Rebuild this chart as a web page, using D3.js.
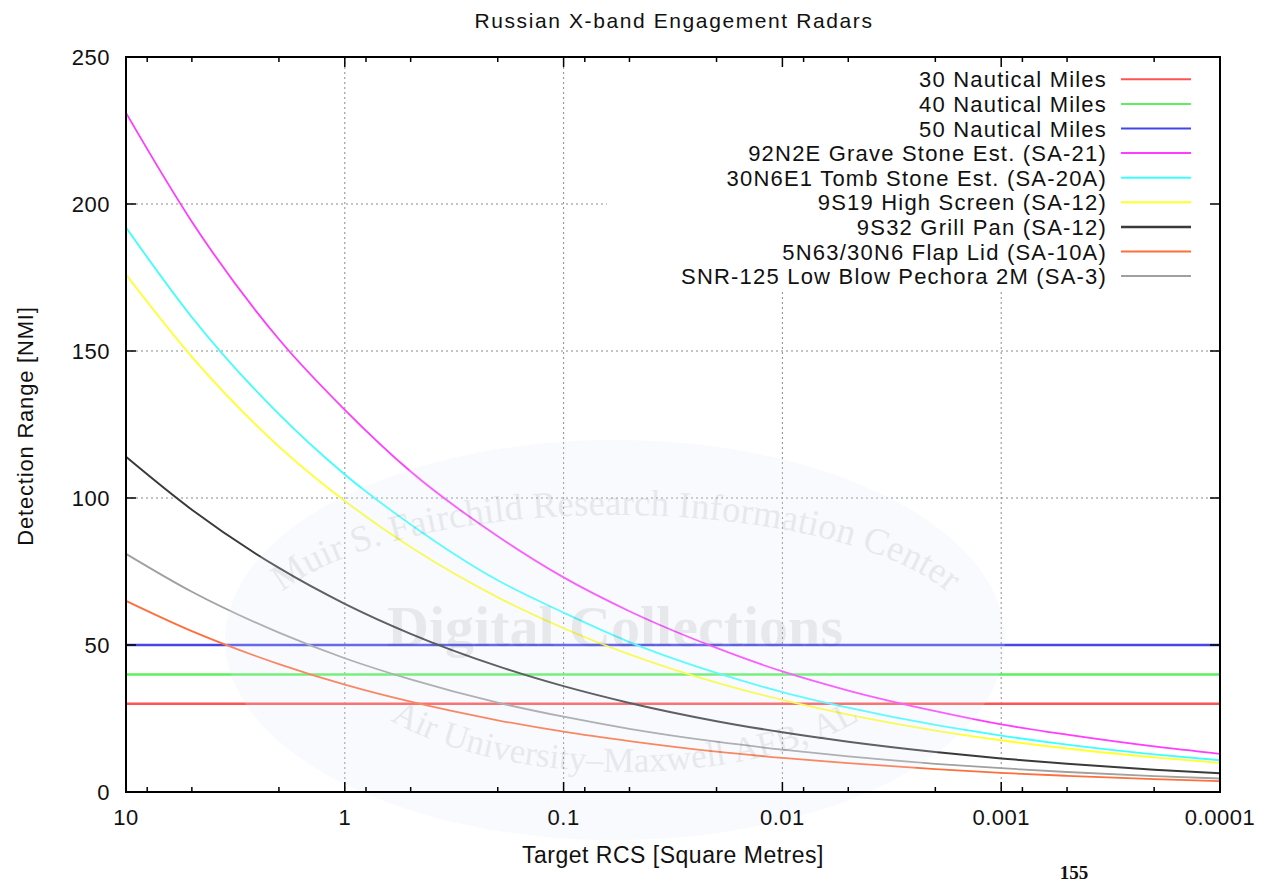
<!DOCTYPE html>
<html><head><meta charset="utf-8">
<script src="https://cdn.jsdelivr.net/npm/d3@7"></script>
<style>
body{margin:0;background:#fff}
svg text{font-family:"Liberation Sans",Arial,Helvetica,sans-serif;fill:#111}
svg text.wm{font-family:"Liberation Serif","Times New Roman",serif;fill:#000}
</style>
</head><body>
<svg id="c" width="1268" height="882"></svg>
<script>
// ---------- data ----------
const rcs = [10,5,2,1,0.5,0.2,0.1,0.05,0.02,0.01,0.005,0.002,0.001,0.0005,0.0002,0.0001];
const graveStone = [231,194,154,130,109,87,73,61.5,49,41,34.5,27.5,23,19.5,15.5,13];
const tombStone  = [192,161.5,128.5,108,91,72,61,51,40.5,34,28.7,22.8,19.2,16.1,12.8,10.8];
const highScreen = [176,148,117.5,99,83.3,66.2,55.7,46.8,37.2,31.3,26.3,20.9,17.6,14.8,11.8,9.9];
const grillPan   = [114,96,76.2,64,53.8,42.8,36,30.3,24.1,20.3,17.1,13.6,11.4,9.6,7.6,6.4];
const flapLid    = [65,54.7,43.5,36.5,30.7,24.4,20.5,17.3,13.7,11.6,9.8,7.8,6.5,5.5,4.4,3.7];
const lowBlow    = [81,68.1,54.2,45.5,38.3,30.4,25.6,21.5,17.1,14.4,12.1,9.6,8.1,6.8,5.4,4.6];
const levelValues = [30,40,50];
const levelNames = ["30 Nautical Miles","40 Nautical Miles","50 Nautical Miles"];
const curveNames = ["92N2E Grave Stone Est. (SA-21)","30N6E1 Tomb Stone Est. (SA-20A)","9S19 High Screen (SA-12)","9S32 Grill Pan (SA-12)","5N63/30N6 Flap Lid (SA-10A)","SNR-125 Low Blow Pechora 2M (SA-3)"];
const curveValues = [graveStone,tombStone,highScreen,grillPan,flapLid,lowBlow];
const xTickValues = [10,1,0.1,0.01,0.001,0.0001];
const xTickLabels = ["10","1","0.1","0.01","0.001","0.0001"];
const xMinorFactors = [0.8,0.5,0.2];
const yTickValues = [0,50,100,150,200,250];
const title = "Russian X-band Engagement  Radars";
const xLabel = "Target RCS [Square Metres]";
const yLabel = "Detection Range [NMI]";
const wmTop = "Muir S. Fairchild Research Information Center";
const wmMid = "Digital Collections";
const wmBot = "Air University\u2013Maxwell AFB, AL";

// ---------- styles ----------
const levelColors = ["#ff5252","#5cf05c","#4646e6"];
const curveColors = ["#ff3cff","#3cffff","#ffff2a","#3a3a3a","#ff6e3c","#a0a0a0"];

const L=126,R=1220,T=57,B=792;
const svg = d3.select("#c");
const x = d3.scaleLog().domain([10,0.0001]).range([L,R]);
const y = d3.scaleLinear().domain([0,250]).range([B,T]);

// grid
const grid = svg.append("g").attr("stroke","#8a8a8a").attr("stroke-width",1).attr("stroke-dasharray","2,3");
grid.selectAll("line.v").data(xTickValues.slice(1,-1)).join("line")
  .attr("x1",d=>x(d)).attr("x2",d=>x(d)).attr("y1",T).attr("y2",B);
grid.selectAll("line.h").data(yTickValues.slice(1,-1)).join("line")
  .attr("x1",L).attr("x2",R).attr("y1",d=>y(d)).attr("y2",d=>y(d));

// key area masks grid
svg.append("rect").attr("x",607).attr("y",T+1).attr("width",R-607-1).attr("height",232).attr("fill","#fff");

// level lines
svg.append("g").selectAll("line").data(levelValues).join("line")
  .attr("x1",L).attr("x2",R).attr("y1",d=>y(d)).attr("y2",d=>y(d))
  .attr("stroke",(d,i)=>levelColors[i]).attr("stroke-width",2.5);

// curves
const line = d3.line().x(d=>x(d[0])).y(d=>y(d[1])).curve(d3.curveMonotoneX);
svg.append("g").selectAll("path").data(curveValues).join("path")
  .attr("d",vals=>line(rcs.map((r,i)=>[r,vals[i]])))
  .attr("fill","none").attr("stroke",(d,i)=>curveColors[i])
  .attr("stroke-width",(d,i)=>i===3?2:1.8);

// watermark
const wm = svg.append("g").attr("pointer-events","none");
wm.append("ellipse").attr("cx",615).attr("cy",640).attr("rx",390).attr("ry",200)
  .attr("fill","#dfe7f5").attr("opacity",0.22);
const defs = svg.append("defs");
const pTop = defs.append("path").attr("id","arcTop").attr("d","M255,640 A360,125 0 0,1 975,640");
const pBot = defs.append("path").attr("id","arcBot").attr("d","M330,640 A295,132 0 0,0 920,640");
function wordsOnPath(pathSel, id, text, size){
  const words = text.split(" ");
  const tmp = wm.append("text").attr("class","wm").attr("font-size",size);
  const widths = words.map(w=>{tmp.text(w);return tmp.node().getComputedTextLength();});
  tmp.remove();
  const gap = size*0.25;
  const total = d3.sum(widths)+gap*(words.length-1);
  let off = pathSel.node().getTotalLength()/2 - total/2;
  words.forEach((w,i)=>{
    wm.append("text").attr("class","wm").attr("font-size",size).attr("opacity",0.065)
      .append("textPath").attr("href","#"+id).attr("startOffset",off).text(w);
    off += widths[i]+gap;
  });
}
wordsOnPath(pTop,"arcTop",wmTop,37);
wordsOnPath(pBot,"arcBot",wmBot,35);
wm.append("text").attr("class","wm").attr("x",615).attr("y",646).attr("text-anchor","middle")
  .attr("font-size",58).attr("font-weight","bold").attr("opacity",0.065).text(wmMid);

// frame
svg.append("rect").attr("x",L).attr("y",T).attr("width",R-L).attr("height",B-T)
  .attr("fill","none").attr("stroke","#000").attr("stroke-width",2);

// ticks
const tk = svg.append("g").attr("stroke","#000").attr("stroke-width",1.5);
const minor = [];
xTickValues.slice(0,-1).forEach(d=>xMinorFactors.forEach(f=>minor.push(d*f)));
[B,T].forEach((yy,k)=>{
  const s = k===0?-1:1;
  tk.append("g").selectAll("line").data(xTickValues).join("line")
    .attr("x1",d=>x(d)).attr("x2",d=>x(d)).attr("y1",yy).attr("y2",yy+s*10);
  tk.append("g").selectAll("line").data(minor).join("line")
    .attr("x1",d=>x(d)).attr("x2",d=>x(d)).attr("y1",yy).attr("y2",yy+s*5);
});
[L,R].forEach((xx,k)=>{
  const s = k===0?1:-1;
  tk.append("g").selectAll("line").data(yTickValues).join("line")
    .attr("x1",xx).attr("x2",xx+s*10).attr("y1",d=>y(d)).attr("y2",d=>y(d));
});

// tick labels
svg.append("g").selectAll("text").data(xTickValues).join("text")
  .attr("x",d=>x(d)).attr("y",825).attr("text-anchor","middle")
  .attr("font-size",22).attr("letter-spacing",0.5).text((d,i)=>xTickLabels[i]);
svg.append("g").selectAll("text").data(yTickValues).join("text")
  .attr("x",110).attr("y",d=>y(d)+8).attr("text-anchor","end")
  .attr("font-size",22).attr("letter-spacing",0.5).text(d=>d);

// titles
svg.append("text").attr("x",674).attr("y",28).attr("text-anchor","middle")
  .attr("font-size",21).attr("letter-spacing",1.6).text(title);
svg.append("text").attr("x",673).attr("y",863).attr("text-anchor","middle")
  .attr("font-size",23).attr("letter-spacing",0.5).text(xLabel);
svg.append("text").attr("transform","translate(33,426) rotate(-90)").attr("text-anchor","middle")
  .attr("font-size",22).attr("letter-spacing",0.8).text(yLabel);

// legend
const keyNames = levelNames.concat(curveNames);
const keyColors = levelColors.concat(curveColors);
const key = svg.append("g").selectAll("g").data(keyNames).join("g")
  .attr("transform",(d,i)=>`translate(0,${79.3+i*24.6})`);
key.append("text").attr("x",1107).attr("y",8).attr("text-anchor","end")
  .attr("font-size",22).attr("letter-spacing",1.2).text(d=>d);
key.append("line").attr("x1",1121).attr("x2",1191).attr("y1",0).attr("y2",0)
  .attr("stroke",(d,i)=>keyColors[i]).attr("stroke-width",(d,i)=>i===6?2.5:2);

// page number
svg.append("text").attr("x",1074).attr("y",879).attr("text-anchor","middle")
  .style("font-family","Liberation Serif,'Times New Roman',serif").attr("font-weight","bold")
  .attr("font-size",19).text("155");
</script>
</body></html>
